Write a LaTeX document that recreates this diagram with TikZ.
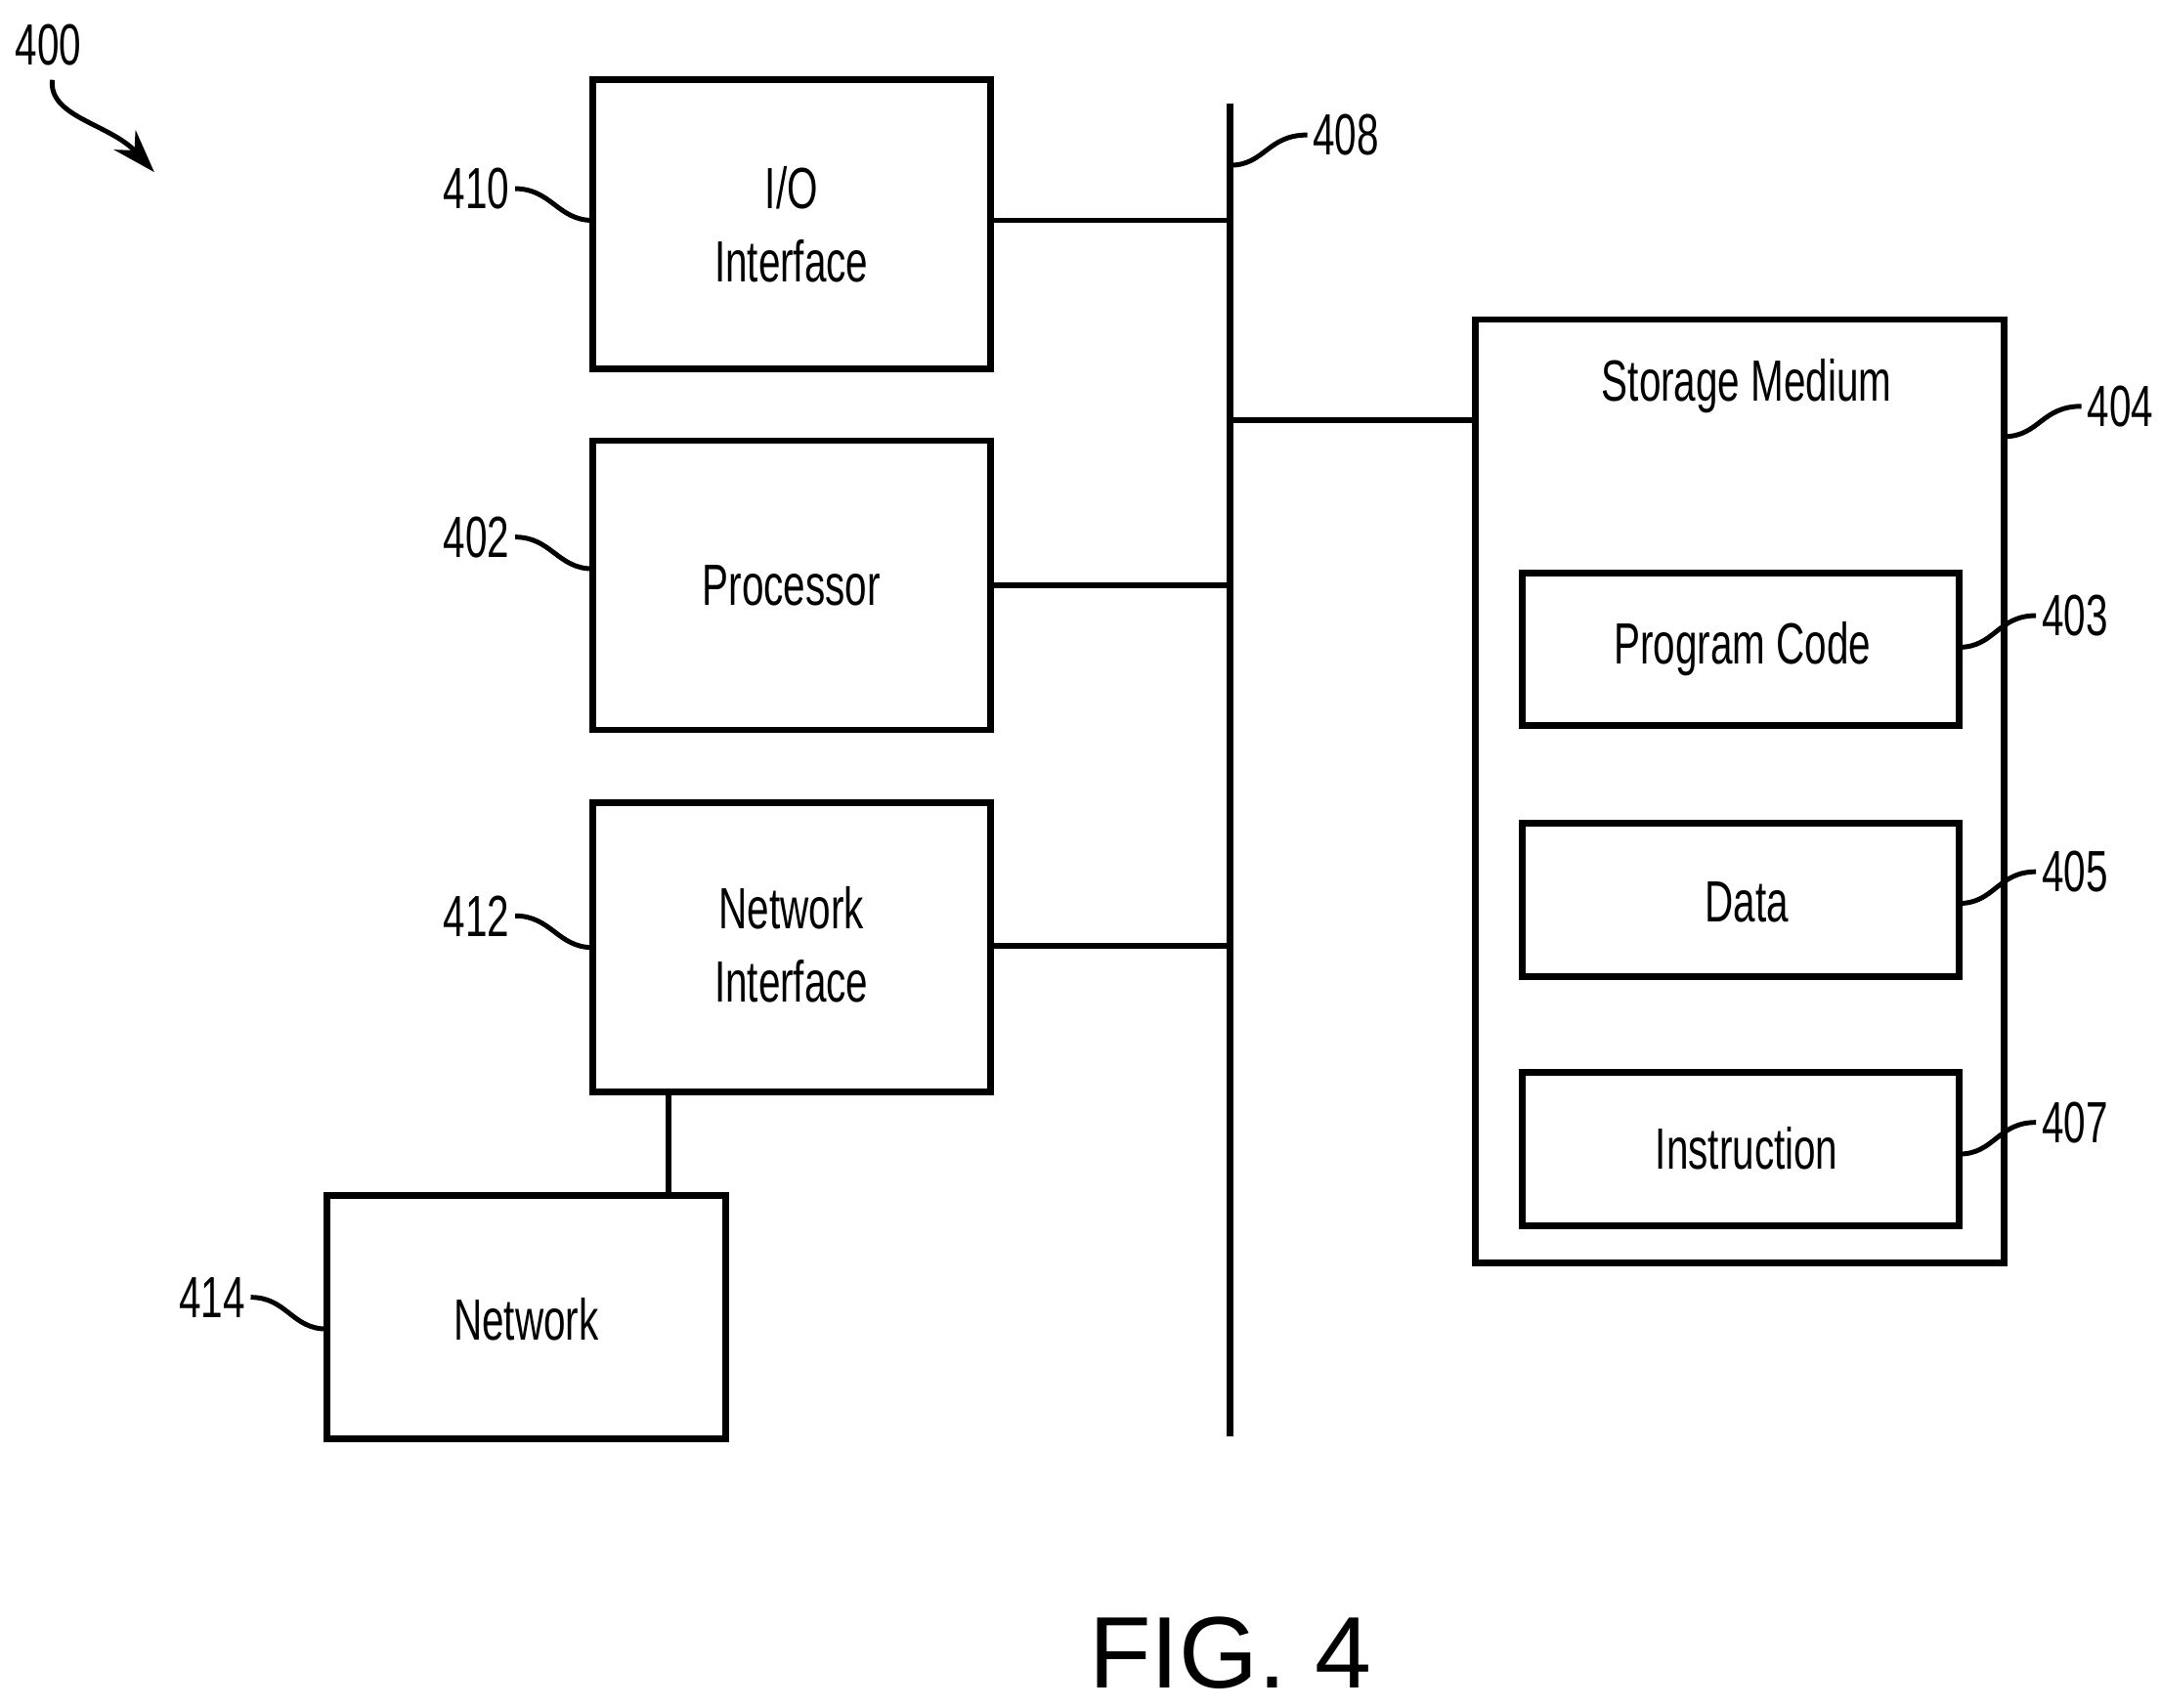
\documentclass[tikz,border=0pt]{standalone}
\usepackage{fontspec}
\usetikzlibrary{arrows.meta}
\setmainfont{Liberation Sans}[FakeStretch=0.68]
\newfontfamily\figfont{Liberation Sans}
\begin{document}
\begin{tikzpicture}[x=0.01cm,y=-0.01cm,
  box/.style={draw,line width=1.4pt},
  txt/.style={font=\fontsize{12}{15}\selectfont,align=center},
  lab/.style={font=\fontsize{12}{15}\selectfont,inner sep=1pt},
  lead/.style={line width=1pt}]
\useasboundingbox (0,0) rectangle (1568,1240);
\draw[box] (430,58) rectangle (719,268); \node[txt] (io) at (574.5,163) {I/O\\Interface};
\draw[box] (430,320) rectangle (719,530); \node[txt] (pr) at (574.5,425) {Processor};
\draw[box] (430,583) rectangle (719,793); \node[txt] (ni) at (574.5,686) {Network\\Interface};
\draw[box] (237,868) rectangle (527,1045); \node[txt] (nw) at (382,958) {Network};
\draw[box] (1071,232) rectangle (1455,917); \node[txt] (sm) at (1268,280) {Storage Medium};
\draw[box] (1105,416) rectangle (1422,527); \node[txt] (pc) at (1265,471) {Program Code};
\draw[box] (1105,598) rectangle (1422,709); \node[txt] (da) at (1268,655) {Data};
\draw[box] (1105,779) rectangle (1422,890); \node[txt] (in) at (1268,834) {Instruction};
\coordinate (b0) at (893,75); \coordinate (b1) at (893,1043);
\draw[line width=1.4pt] (b0) -- (b1);
\draw[line width=1.2pt] (719,160) -- (893,160) (719,425) -- (893,425) (719,687) -- (893,687)
  (893,305) -- (1071,305) (485,793) -- (485,868);
\node[lab,anchor=east] (l410) at (374,137) {410}; \draw[lead] (374,137) .. controls (400,137) and (405,160) .. (430,160);
\node[lab,anchor=east] (l402) at (374,390) {402}; \draw[lead] (374,390) .. controls (400,390) and (405,413) .. (430,413);
\node[lab,anchor=east] (l412) at (374,665) {412}; \draw[lead] (374,665) .. controls (400,665) and (405,688) .. (430,688);
\node[lab,anchor=east] (l414) at (182,942) {414}; \draw[lead] (182,942) .. controls (208,942) and (212,965) .. (237,965);
\node[lab,anchor=west] (l408) at (949,98) {408}; \draw[lead] (949,98) .. controls (920,98) and (918,120) .. (893,120);
\node[lab,anchor=west] (l404) at (1511,295) {404}; \draw[lead] (1511,295) .. controls (1482,295) and (1480,317) .. (1455,317);
\node[lab,anchor=west] (l403) at (1478,447) {403}; \draw[lead] (1478,447) .. controls (1450,447) and (1448,470) .. (1422,470);
\node[lab,anchor=west] (l405) at (1478,633) {405}; \draw[lead] (1478,633) .. controls (1450,633) and (1448,656) .. (1422,656);
\node[lab,anchor=west] (l407) at (1478,815) {407}; \draw[lead] (1478,815) .. controls (1450,815) and (1448,838) .. (1422,838);
\node[lab] (l400) at (35,33) {400};
\draw[lead,-{Stealth[length=9pt,width=6pt]}] (38,58) .. controls (35,85) and (80,90) .. (112,125);
\node[font=\figfont\fontsize{21}{25}\selectfont] (fig) at (893,1200) {FIG. 4};
\end{tikzpicture}
\end{document}
